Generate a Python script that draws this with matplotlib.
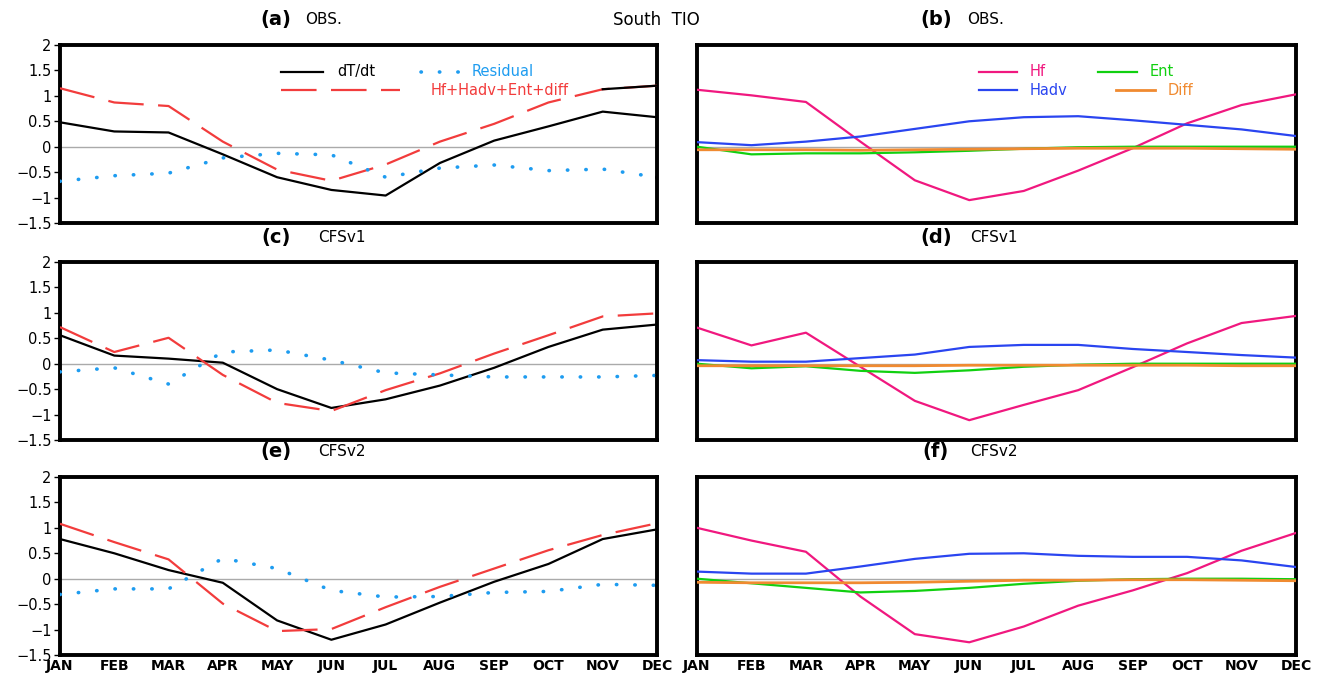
import numpy as np
import matplotlib
matplotlib.use("Agg")
import matplotlib.pyplot as plt

months = ["JAN", "FEB", "MAR", "APR", "MAY", "JUN", "JUL", "AUG", "SEP", "OCT", "NOV", "DEC"]

# left column: dT/dt, sum of terms, residual
obs_dtdt = [0.48, 0.30, 0.28, -0.15, -0.60, -0.85, -0.96, -0.32, 0.12, 0.40, 0.69, 0.58]
obs_sum = [1.15, 0.87, 0.80, 0.10, -0.45, -0.67, -0.35, 0.10, 0.45, 0.87, 1.13, 1.20]
obs_res = [-0.68, -0.57, -0.52, -0.22, -0.13, -0.16, -0.60, -0.42, -0.36, -0.47, -0.44, -0.60]

v1_dtdt = [0.56, 0.16, 0.10, 0.02, -0.50, -0.87, -0.70, -0.43, -0.08, 0.33, 0.67, 0.77]
v1_sum = [0.72, 0.23, 0.51, -0.22, -0.77, -0.93, -0.52, -0.19, 0.20, 0.56, 0.93, 0.99]
v1_res = [-0.16, -0.08, -0.40, 0.23, 0.27, 0.07, -0.18, -0.22, -0.26, -0.26, -0.26, -0.23]

v2_dtdt = [0.78, 0.50, 0.17, -0.08, -0.82, -1.20, -0.90, -0.47, -0.06, 0.29, 0.78, 0.97]
v2_sum = [1.08, 0.72, 0.38, -0.49, -1.03, -0.99, -0.56, -0.16, 0.20, 0.56, 0.86, 1.09]
v2_res = [-0.31, -0.20, -0.20, 0.40, 0.20, -0.23, -0.36, -0.35, -0.27, -0.25, -0.11, -0.13]

# right column: individual terms
obs_hf = [1.12, 1.01, 0.88, 0.10, -0.66, -1.05, -0.87, -0.47, -0.03, 0.46, 0.82, 1.03]
obs_hadv = [0.09, 0.03, 0.10, 0.20, 0.35, 0.50, 0.58, 0.60, 0.52, 0.43, 0.34, 0.21]
obs_ent = [0.00, -0.15, -0.13, -0.13, -0.11, -0.08, -0.04, -0.01, 0.00, 0.00, 0.00, 0.00]
obs_diff = [-0.06, -0.06, -0.06, -0.07, -0.06, -0.05, -0.04, -0.03, -0.03, -0.03, -0.04, -0.05]

v1_hf = [0.71, 0.36, 0.61, -0.06, -0.73, -1.11, -0.81, -0.52, -0.07, 0.40, 0.80, 0.94]
v1_hadv = [0.07, 0.04, 0.04, 0.11, 0.18, 0.33, 0.37, 0.37, 0.29, 0.23, 0.17, 0.12]
v1_ent = [0.00, -0.09, -0.05, -0.14, -0.18, -0.13, -0.06, -0.02, 0.00, 0.00, 0.00, 0.00]
v1_diff = [-0.04, -0.04, -0.04, -0.04, -0.04, -0.03, -0.03, -0.03, -0.03, -0.03, -0.04, -0.04]

v2_hf = [1.00, 0.75, 0.53, -0.35, -1.09, -1.25, -0.94, -0.53, -0.23, 0.11, 0.55, 0.90]
v2_hadv = [0.14, 0.10, 0.10, 0.24, 0.39, 0.49, 0.50, 0.45, 0.43, 0.43, 0.36, 0.23]
v2_ent = [0.00, -0.09, -0.18, -0.27, -0.24, -0.18, -0.10, -0.04, -0.01, 0.00, 0.00, -0.01]
v2_diff = [-0.07, -0.08, -0.08, -0.08, -0.07, -0.05, -0.03, -0.03, -0.02, -0.02, -0.03, -0.04]

left_data = [(obs_dtdt, obs_sum, obs_res), (v1_dtdt, v1_sum, v1_res), (v2_dtdt, v2_sum, v2_res)]
right_data = [(obs_hf, obs_hadv, obs_ent, obs_diff), (v1_hf, v1_hadv, v1_ent, v1_diff),
              (v2_hf, v2_hadv, v2_ent, v2_diff)]
left_titles = [("(a)", "OBS."), ("(c)", "CFSv1"), ("(e)", "CFSv2")]
right_titles = [("(b)", "OBS."), ("(d)", "CFSv1"), ("(f)", "CFSv2")]

c_red = "#f23c3c"
c_res = "#1e9cf0"
c_hf = "#f0187f"
c_hadv = "#2a45f0"
c_ent = "#10d010"
c_diff = "#f08a30"

dash_red = (16, 6.5)
dot_res = (0, (0.1, 5))

W, H = 1321, 676
fig = plt.figure(figsize=(W / 100, H / 100), dpi=100)
x = np.arange(12)
rows_px = [(45, 223), (262, 440), (477, 655)]


def frame(ax):
    ax.set_xlim(0, 11)
    ax.set_ylim(-1.5, 2)
    ax.axhline(0, color="#aaaaaa", lw=1, zorder=1)
    for s in ax.spines.values():
        s.set_linewidth(2.8)
    ax.set_xticks(x)
    ax.tick_params(axis="x", length=0, pad=3)


for i, (top, bot) in enumerate(rows_px):
    b = 1 - bot / H
    h = (bot - top) / H
    axl = fig.add_axes([60 / W, b, 597 / W, h])
    axr = fig.add_axes([697 / W, b, 599 / W, h])
    frame(axl)
    frame(axr)

    dtdt, tot, res = left_data[i]
    axl.plot(x, dtdt, color="black", lw=1.6, zorder=3)
    axl.plot(x, tot, color=c_red, lw=1.6, dashes=dash_red, zorder=3)
    axl.plot(x, res, color=c_res, lw=2.6, linestyle=dot_res,
             dash_capstyle="round", zorder=3)
    axl.plot(x[-1], res[-1], "o", color="black", ms=2.5, zorder=4)
    if i == 0:
        axl.plot(x[-2:], tot[-2:], color="black", lw=1.6, zorder=4)

    hf, hadv, ent, dif = right_data[i]
    axr.plot(x, hf, color=c_hf, lw=1.6, zorder=3)
    axr.plot(x, hadv, color=c_hadv, lw=1.6, zorder=3)
    axr.plot(x, ent, color=c_ent, lw=1.6, zorder=3)
    axr.plot(x, dif, color=c_diff, lw=2.0, zorder=3)

    axl.set_yticks([-1.5, -1, -0.5, 0, 0.5, 1, 1.5, 2])
    axl.set_yticklabels(["\u22121.5", "\u22121", "\u22120.5", "0", "0.5", "1", "1.5", "2"])
    axl.tick_params(axis="y", length=4, width=1, pad=2, labelsize=10.5)
    axr.set_yticks([])

    if i == 2:
        for ax in (axl, axr):
            ax.set_xticklabels(months, fontsize=10, fontweight="bold")
    else:
        axl.set_xticklabels([])
        axr.set_xticklabels([])

    ty = 1 - (top - 25) / H
    fig.text(276 / W, ty, left_titles[i][0],
             fontsize=14, fontweight="bold", ha="center", va="center")
    fig.text(305 / W if i == 0 else 318 / W, ty, left_titles[i][1],
             fontsize=11, ha="left", va="center")
    fig.text(936 / W, ty, right_titles[i][0],
             fontsize=14, fontweight="bold", ha="center", va="center")
    fig.text(967 / W if i == 0 else 970 / W, ty, right_titles[i][1],
             fontsize=11, ha="left", va="center")

    if i == 0:
        # legend panel (a)
        T = axl.transAxes
        axl.plot([0.37, 0.44], [0.85, 0.85], color="black", lw=1.6, transform=T)
        axl.text(0.465, 0.85, "dT/dt", fontsize=10.5, va="center", transform=T)
        axl.plot([0.605, 0.67], [0.85, 0.85], color=c_res, lw=2.6,
                 linestyle=dot_res, dash_capstyle="round", transform=T)
        axl.text(0.69, 0.85, "Residual", fontsize=10.5, color=c_res, va="center", transform=T)
        axl.plot([0.37, 0.57], [0.745, 0.745], color=c_red, lw=1.6, dashes=dash_red, transform=T)
        axl.text(0.62, 0.745, "Hf+Hadv+Ent+diff", fontsize=10.5, color=c_red, va="center",
                 transform=T)
        # legend panel (b)
        T = axr.transAxes
        axr.plot([0.47, 0.535], [0.85, 0.85], color=c_hf, lw=1.6, transform=T)
        axr.text(0.555, 0.85, "Hf", fontsize=10.5, color=c_hf, va="center", transform=T)
        axr.plot([0.67, 0.735], [0.85, 0.85], color=c_ent, lw=1.6, transform=T)
        axr.text(0.755, 0.85, "Ent", fontsize=10.5, color=c_ent, va="center", transform=T)
        axr.plot([0.47, 0.535], [0.745, 0.745], color=c_hadv, lw=1.6, transform=T)
        axr.text(0.555, 0.745, "Hadv", fontsize=10.5, color=c_hadv, va="center", transform=T)
        axr.plot([0.70, 0.765], [0.745, 0.745], color=c_diff, lw=2.0, transform=T)
        axr.text(0.785, 0.745, "Diff", fontsize=10.5, color=c_diff, va="center", transform=T)

fig.text(656 / W, 1 - 20 / H, "South  TIO", fontsize=12, ha="center", va="center")

fig.savefig("out.png", dpi=100)
